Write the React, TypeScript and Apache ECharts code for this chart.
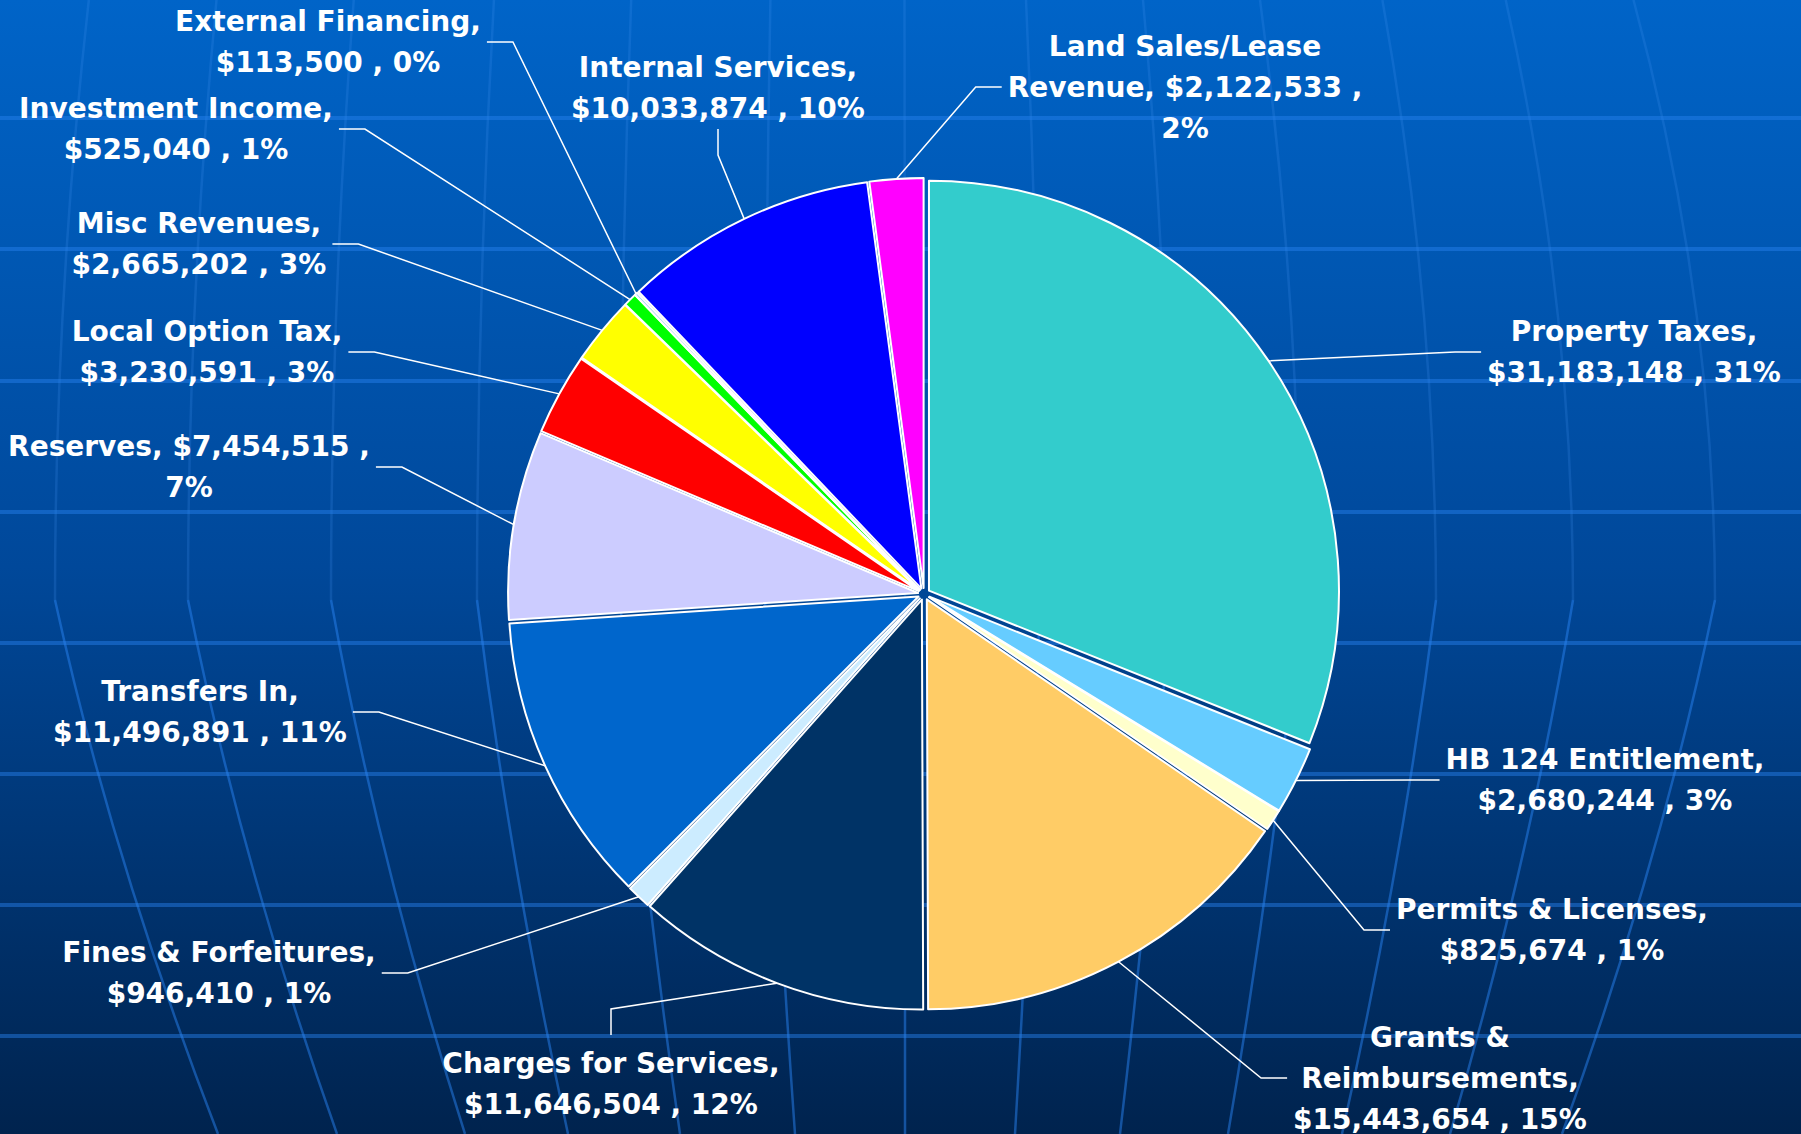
import React, { useEffect, useRef } from 'react';
import * as echarts from 'echarts';

// ---------- data ----------
const categories = [
  'Property Taxes',
  'HB 124 Entitlement',
  'Permits & Licenses',
  'Grants & Reimbursements',
  'Charges for Services',
  'Fines & Forfeitures',
  'Transfers In',
  'Reserves',
  'Local Option Tax',
  'Misc Revenues',
  'Investment Income',
  'External Financing',
  'Internal Services',
  'Land Sales/Lease Revenue',
];
const values = [
  31183148, 2680244, 825674, 15443654, 11646504, 946410, 11496891, 7454515,
  3230591, 2665202, 525040, 113500, 10033874, 2122533,
];

// ---------- styling / layout ----------
const sliceColors = [
  '#33CCCC', '#66CCFF', '#FFFFCC', '#FFCC66', '#003366', '#CCECFF', '#0066CC',
  '#CCCCFF', '#FF0000', '#FFFF00', '#00FF00', '#99CCFF', '#0000FF', '#FF00FF',
];
// word index after which the name wraps (0 = no wrap)
const nameBreakAfter = [0, 0, 0, 2, 0, 0, 0, 0, 0, 0, 0, 0, 0, 2];
// true: "name, value ,\npct"  false: "name,\nvalue , pct"
const breakBeforePercent = [false, false, false, false, false, false, false, true, false, false, false, false, false, true];
const labelCenters: [number, number][] = [
  [1634, 352], [1605, 780], [1552, 930], [1440, 1078], [611, 1084], [219, 973],
  [200, 712], [189, 467], [207, 352], [199, 244], [176, 129], [328, 42],
  [718, 88], [1185, 87],
];
const lineSides = [
  'left', 'left', 'left', 'left', 'top', 'right', 'right', 'right', 'right',
  'right', 'right', 'right', 'bottom', 'left',
];

const W = 1801;
const H = 1134;
const CX = 924;
const CY = 594;
const R = 410;
const OFFSET = 6;

const gridY = [118, 249, 381, 512, 643, 774, 905, 1036];
const meridianX = [55, 188, 331, 477, 620, 765, 905, 1040, 1170, 1300, 1436, 1573, 1715];
const meridianShift = [163, 149, 134, 91, 60, 30, 0, -25, -50, -72, -94, -123, -153];

function fmtMoney(v: number) {
  return '$' + String(v).replace(/\B(?=(\d{3})+(?!\d))/g, ',');
}

function buildBackground() {
  const els: any[] = [];
  els.push({
    type: 'rect',
    silent: true,
    z: -30,
    shape: { x: 0, y: 0, width: W, height: H },
    style: {
      fill: new echarts.graphic.LinearGradient(0, 0, 0, 1, [
        { offset: 0, color: '#0064C8' },
        { offset: 0.5, color: '#00489A' },
        { offset: 1, color: '#00234E' },
      ]),
    },
  });
  meridianX.forEach((x, i) => {
    const t = (x - 900) * (x > 900 ? 0.1 : 0.04);
    const s = meridianShift[i];
    els.push({
      type: 'bezierCurve',
      silent: true,
      z: -20,
      shape: { x1: x - t, y1: 0, cpx1: x, cpy1: 300, x2: x, y2: 600 },
      style: { stroke: 'rgba(70,150,245,0.2)', lineWidth: 2.5, fill: 'none' },
    });
    els.push({
      type: 'bezierCurve',
      silent: true,
      z: -20,
      shape: { x1: x, y1: 600, cpx1: x + s * 0.35, cpy1: 860, x2: x + s, y2: H },
      style: { stroke: 'rgba(40,130,240,0.5)', lineWidth: 2.5, fill: 'none' },
    });
  });
  gridY.forEach((y) => {
    els.push({
      type: 'line',
      silent: true,
      z: -19,
      shape: { x1: 0, y1: y, x2: W, y2: y },
      style: { stroke: 'rgba(40,130,240,0.45)', lineWidth: 4 },
    });
  });
  return els;
}

function labelText(p: any) {
  const i = p.dataIndex;
  const words = categories[i].split(' ');
  const k = nameBreakAfter[i];
  const name = k > 0 ? words.slice(0, k).join(' ') + '\n' + words.slice(k).join(' ') : categories[i];
  const v = fmtMoney(values[i]);
  const pct = Math.round(p.percent) + '%';
  return breakBeforePercent[i] ? `${name}, ${v} ,\n${pct}` : `${name},\n${v} , ${pct}`;
}

function labelLayout(params: any) {
  const i = params.dataIndex;
  const [lx, ly] = labelCenters[i];
  const w = params.labelRect.width;
  const h = params.labelRect.height;
  const side = lineSides[i];
  const SEG = 26;
  const GAP = 6;
  let end: number[];
  let turn: number[];
  if (side === 'left') {
    end = [lx - w / 2 - GAP, ly];
    turn = [end[0] - SEG, ly];
  } else if (side === 'right') {
    end = [lx + w / 2 + GAP, ly];
    turn = [end[0] + SEG, ly];
  } else if (side === 'top') {
    end = [lx, ly - h / 2 - 8];
    turn = [lx, end[1] - SEG];
  } else {
    end = [lx, ly + h / 2];
    turn = [lx, end[1] + SEG];
  }
  const pts = params.labelLinePoints;
  const p0 = pts && pts[0] ? pts[0] : [CX, CY - R];
  const ddx = p0[0] - CX;
  const ddy = p0[1] - CY;
  const len = Math.hypot(ddx, ddy) || 1;
  // start on the exploded slice's outer edge
  const sx = p0[0] + (ddx / len) * OFFSET;
  const sy = p0[1] + (ddy / len) * OFFSET;
  return {
    x: lx,
    y: ly,
    align: 'center',
    verticalAlign: 'middle',
    labelLinePoints: [[sx, sy], turn, end],
  };
}

export default function App() {
  const ref = useRef<HTMLDivElement>(null);

  useEffect(() => {
    document.body.style.margin = '0';
    if (!ref.current) return;
    const chart = echarts.init(ref.current, null, { renderer: 'svg' });

    const sliceData = categories.map((name, i) => ({
      name,
      value: values[i],
      selected: true,
      itemStyle: { color: sliceColors[i] },
    }));
    const labelData = categories.map((name, i) => ({ name, value: values[i] }));

    const option: any = {
      animation: false,
      graphic: { elements: buildBackground() },
      series: [
        {
          // exploded slices
          type: 'pie',
          center: [CX, CY],
          radius: R,
          startAngle: 90,
          clockwise: true,
          selectedMode: 'multiple',
          selectedOffset: OFFSET,
          emphasis: { disabled: true },
          itemStyle: { borderColor: '#FFFFFF', borderWidth: 2 },
          label: { show: false },
          labelLine: { show: false },
          data: sliceData,
        },
        {
          // same data, invisible sectors: carries the labels and leader lines
          type: 'pie',
          center: [CX, CY],
          radius: R,
          startAngle: 90,
          clockwise: true,
          silent: true,
          z: 3,
          avoidLabelOverlap: false,
          emphasis: { disabled: true },
          itemStyle: { color: 'rgba(0,0,0,0)', borderWidth: 0 },
          label: {
            show: true,
            position: 'outside',
            alignTo: 'none',
            color: '#FFFFFF',
            fontFamily: 'DejaVu Sans',
            fontWeight: 'bold',
            fontSize: 28,
            lineHeight: 41,
            formatter: labelText,
          },
          labelLine: {
            show: true,
            length: 10,
            length2: 10,
            lineStyle: { color: '#FFFFFF', width: 1.5 },
          },
          labelLayout,
          data: labelData,
        },
      ],
    };

    chart.setOption(option);
    return () => {
      chart.dispose();
    };
  }, []);

  return <div ref={ref} style={{ width: W, height: H }} />;
}
